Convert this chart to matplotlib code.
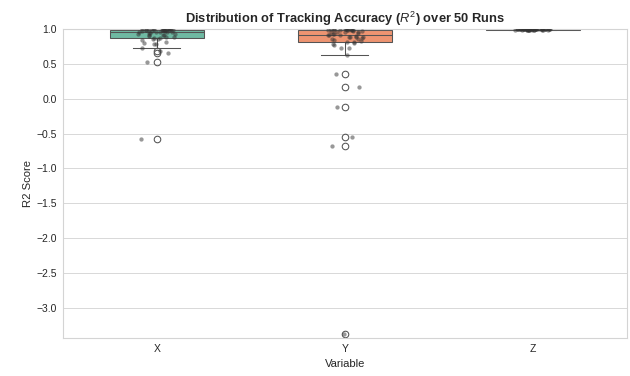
"""Box + strip plot of tracking accuracy (R^2) for X/Y/Z over 50 runs."""

import colorsys

import numpy as np
import matplotlib
matplotlib.use("Agg")
import matplotlib.pyplot as plt
import matplotlib.colors as mcolors


VARIABLES = ["X", "Y", "Z"]

# R^2 per run (50 runs per variable)
R2_X = [-0.58, 0.52, 0.65, 0.68, 0.73, 0.78, 0.79, 0.80, 0.82, 0.84,
        0.85, 0.86, 0.87, 0.87, 0.88, 0.89, 0.90, 0.91, 0.92, 0.92,
        0.93, 0.93, 0.94, 0.94, 0.95, 0.95, 0.96, 0.96, 0.96, 0.97,
        0.97, 0.97, 0.98, 0.98, 0.98, 0.98, 0.99, 0.99, 0.99, 0.99,
        0.99, 0.99, 0.99, 0.995, 0.995, 0.997, 0.997, 0.998, 0.999, 0.999]
R2_Y = [-3.37, -0.68, -0.55, -0.12, 0.17, 0.36, 0.62, 0.72, 0.73, 0.77,
        0.79, 0.80, 0.81, 0.82, 0.83, 0.84, 0.85, 0.86, 0.87, 0.88,
        0.88, 0.89, 0.89, 0.90, 0.91, 0.91, 0.92, 0.93, 0.93, 0.94,
        0.95, 0.95, 0.96, 0.96, 0.97, 0.97, 0.98, 0.98, 0.98, 0.99,
        0.99, 0.99, 0.99, 0.99, 0.995, 0.995, 0.997, 0.998, 0.999, 0.999]
R2_Z = [0.984, 0.986, 0.987, 0.988, 0.989, 0.989, 0.990, 0.990, 0.991, 0.991,
        0.991, 0.992, 0.992, 0.992, 0.993, 0.993, 0.993, 0.993, 0.994, 0.994,
        0.994, 0.994, 0.995, 0.995, 0.995, 0.995, 0.995, 0.996, 0.996, 0.996,
        0.996, 0.996, 0.997, 0.997, 0.997, 0.997, 0.997, 0.998, 0.998, 0.998,
        0.998, 0.998, 0.998, 0.999, 0.999, 0.999, 0.999, 0.999, 0.999, 0.999]

# Set2 palette, desaturated like seaborn's boxplot default
PALETTE = ["#66c2a5", "#fc8d62", "#8da0cb"]
LINE = "0.33"


def desaturate(color, prop=0.8):
    h, l, s = colorsys.rgb_to_hls(*mcolors.to_rgb(color))
    return colorsys.hls_to_rgb(h, l, s * prop)


def main():
    plt.rcParams["font.family"] = ["Liberation Sans", "DejaVu Sans"]
    plt.rcParams["text.color"] = "0.15"
    plt.rcParams["axes.labelcolor"] = "0.15"
    plt.rcParams["mathtext.fontset"] = "custom"
    plt.rcParams["mathtext.it"] = "Liberation Sans:italic"
    plt.rcParams["mathtext.rm"] = "Liberation Sans"

    data = [R2_X, R2_Y, R2_Z]
    pos = np.arange(len(VARIABLES))

    fig = plt.figure(figsize=(10, 376 / 63), dpi=63)
    ax = fig.add_axes([0.100, 0.101, 0.895, 0.822])

    lw = 1.2
    bp = ax.boxplot(data, positions=pos, widths=0.5, capwidths=0.25,
                    patch_artist=True, zorder=2,
                    medianprops=dict(color=LINE, linewidth=lw),
                    whiskerprops=dict(color=LINE, linewidth=lw),
                    capprops=dict(color=LINE, linewidth=lw),
                    boxprops=dict(edgecolor=LINE, linewidth=lw),
                    flierprops=dict(marker="o", markersize=7.5,
                                    markerfacecolor="none",
                                    markeredgecolor=LINE,
                                    markeredgewidth=1.2))
    for patch, c in zip(bp["boxes"], PALETTE):
        patch.set_facecolor(desaturate(c))

    # strip of individual runs on top, small horizontal jitter
    rng = np.random.default_rng(3)
    for i, vals in enumerate(data):
        jit = rng.uniform(-0.1, 0.1, len(vals))
        ax.scatter(i + jit, vals, s=24, color="0.2", alpha=0.5,
                   linewidths=0, zorder=3)

    ax.set_xlim(-0.5, 2.5)
    ax.set_ylim(-3.43, 1.0)
    ax.set_xticks(pos)
    ax.set_xticklabels(VARIABLES)
    ax.set_yticks(np.arange(-3.0, 1.01, 0.5))
    ax.tick_params(length=0, labelsize=11.8, labelcolor="0.15", pad=7)

    ax.set_axisbelow(True)
    ax.grid(axis="y", color="0.83", linewidth=1)
    for sp in ax.spines.values():
        sp.set_color("0.83")
        sp.set_linewidth(1.25)

    ax.set_title(r"Distribution of Tracking Accuracy ($R^2$) over 50 Runs",
                 fontsize=14.7, fontweight="bold", pad=7)
    ax.set_xlabel("Variable", fontsize=12.8, labelpad=5)
    ax.set_ylabel("R2 Score", fontsize=12.8)

    fig.savefig("out.png", dpi=63)
    plt.close(fig)


if __name__ == "__main__":
    main()
